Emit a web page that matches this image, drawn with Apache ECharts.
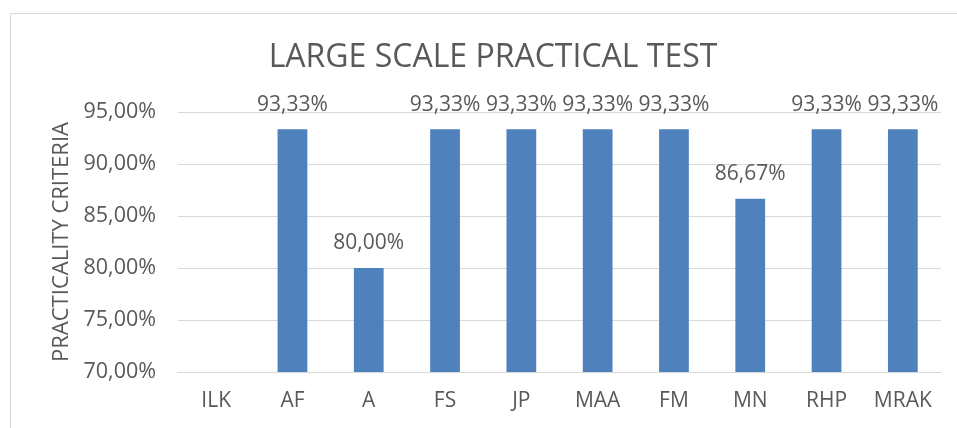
<!DOCTYPE html>
<html>
<head>
<meta charset="utf-8">
<script src="https://cdn.jsdelivr.net/npm/echarts@6/dist/echarts.min.js"></script>
<style>
  html, body { margin: 0; padding: 0; background: #fff; }
  #chart { width: 957px; height: 428px; }
</style>
</head>
<body>
<div id="chart"></div>
<script>
var categories = ['ILK', 'AF', 'A', 'FS', 'JP', 'MAA', 'FM', 'MN', 'RHP', 'MRAK'];
var values = [null, 93.33, 80.00, 93.33, 93.33, 93.33, 93.33, 86.67, 93.33, 93.33];
var yTicks = { min: 70, max: 95, interval: 5 };

var textColor = '#595959';
var font = 'Open Sans';

function pct(v) {
    return v.toFixed(2).replace('.', ',') + '%';
}

var chart = echarts.init(document.getElementById('chart'), null, {renderer: 'canvas'});

chart.setOption({
    animation: false,
    graphic: [{
        type: 'rect',
        shape: {x: 10.5, y: 13.5, width: 960, height: 430},
        style: {fill: 'none', stroke: '#d9d9d9', lineWidth: 1}
    }],
    title: {
        text: 'LARGE SCALE PRACTICAL TEST',
        left: 488,
        textAlign: 'center',
        top: 37,
        textStyle: {color: textColor, fontFamily: font, fontSize: 32, fontWeight: 'normal'}
    },
    grid: {left: 178, right: 16, top: 112, bottom: 56, containLabel: false},
    xAxis: {
        type: 'category',
        data: categories,
        axisLine: {lineStyle: {color: '#d9d9d9'}},
        axisTick: {show: false},
        axisLabel: {color: textColor, fontFamily: font, fontSize: 21, margin: 19}
    },
    yAxis: {
        type: 'value',
        min: yTicks.min,
        max: yTicks.max,
        interval: yTicks.interval,
        name: 'PRACTICALITY CRITERIA',
        nameLocation: 'middle',
        nameGap: 105,
        nameTextStyle: {color: textColor, fontFamily: font, fontSize: 22},
        axisLine: {show: false},
        axisTick: {show: false},
        splitLine: {lineStyle: {color: '#d9d9d9'}},
        axisLabel: {
            color: textColor, fontFamily: font, fontSize: 21.5, margin: 22,
            formatter: function (v) { return pct(v); }
        }
    },
    series: [{
        type: 'bar',
        data: values,
        barWidth: '39%',
        itemStyle: {color: '#4f81bd'},
        label: {
            show: true,
            position: 'top',
            distance: 14,
            color: textColor,
            fontFamily: font,
            fontSize: 21,
            formatter: function (p) { return pct(p.value); }
        }
    }]
});
</script>
</body>
</html>
